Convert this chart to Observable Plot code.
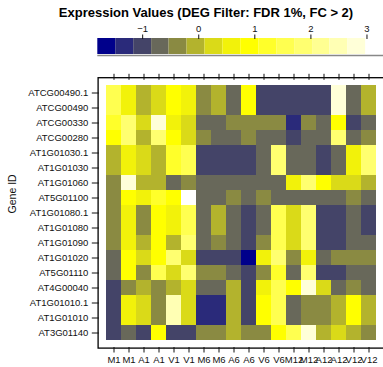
<!DOCTYPE html>
<html><head><meta charset="utf-8">
<script src="https://cdn.jsdelivr.net/npm/d3@7"></script>
<script src="https://cdn.jsdelivr.net/npm/@observablehq/plot@0.6"></script>
<style>
body{margin:0;background:#fff;}
#wrap{position:relative;width:383px;height:367px;overflow:hidden;font-family:"Liberation Sans",Arial,sans-serif;background:#fff;}
#wrap svg{position:absolute;left:0;top:0;}
#title{position:absolute;left:0;width:412px;top:0;text-align:center;font:bold 13px "Liberation Sans",Arial,sans-serif;line-height:26px;color:#000;z-index:3;white-space:nowrap;}
</style></head><body>
<div id="wrap"><div id="title">Expression Values (DEG Filter: FDR 1%, FC &gt; 2)</div></div>
<script>
const genes = ["ATCG00490.1","ATCG00490","ATCG00330","ATCG00280","AT1G01030.1","AT1G01030","AT1G01060","AT5G01100","AT1G01080.1","AT1G01080","AT1G01090","AT1G01020","AT5G01110","AT4G00040","AT1G01010.1","AT1G01010","AT3G01140"];
const samples = ["M1","M1","A1","A1","V1","V1","M6","M6","A6","A6","V6","V6","M12","M12","A12","A12","V12","V12"];
const values = [
 [1.55,0.59,-0.05,0.27,0.91,0.59,-0.37,-0.05,-0.68,0.91,-1.00,-1.00,-1.00,-1.00,-1.00,2.82,-0.68,-0.05],
 [1.55,0.59,-0.05,0.27,0.91,0.59,-0.37,-0.05,-0.68,0.91,-1.00,-1.00,-1.00,-1.00,-1.00,2.82,-0.68,-0.05],
 [1.23,1.86,0.27,2.82,0.59,0.27,-0.68,-0.68,-0.37,-0.37,-0.37,-0.37,-1.32,-0.37,-0.68,0.91,-1.00,-0.68],
 [0.91,1.86,-0.05,1.86,0.91,0.27,-0.37,-0.68,-0.68,-0.37,-0.68,-0.68,-1.00,-0.68,-0.68,1.86,-0.68,-0.37],
 [-0.05,0.59,0.27,-0.05,1.23,1.55,-1.00,-1.00,-1.00,-1.00,-0.68,1.86,-0.68,-0.68,-1.00,-0.68,0.59,1.86],
 [-0.05,0.59,0.27,-0.05,1.23,1.55,-1.00,-1.00,-1.00,-1.00,-0.68,1.86,-0.68,-0.68,-1.00,-0.68,0.59,1.86],
 [-0.37,2.82,-0.05,-0.05,-0.68,-0.37,-0.68,-0.68,-0.68,-0.68,-0.68,-0.68,0.59,1.86,0.91,0.27,0.27,-0.05],
 [-0.37,0.91,0.59,1.23,0.91,3.14,-0.68,-0.68,-0.37,-0.68,-0.37,-0.68,-0.68,-0.68,-0.68,-0.68,-0.37,-0.68],
 [-0.37,0.59,-0.37,0.91,0.59,1.55,-0.68,-0.05,-0.68,-1.00,-0.68,1.55,0.27,1.86,-1.00,-1.00,-0.68,-1.00],
 [-0.37,0.59,-0.37,0.91,0.59,1.55,-0.68,-0.05,-0.68,-1.00,-0.68,1.55,0.27,1.86,-1.00,-1.00,-0.68,-1.00],
 [-0.37,0.59,-0.05,0.91,-0.05,1.86,-0.68,-0.37,-0.68,-1.00,-0.37,1.55,0.27,1.86,-1.00,-1.00,-0.68,-0.68],
 [-0.68,0.91,0.27,0.91,1.86,0.27,-1.00,-1.00,-1.00,-1.64,0.59,1.86,-0.37,0.59,-0.68,-0.37,-0.37,-0.37],
 [-0.68,0.91,-0.37,1.55,0.27,1.86,-0.37,-0.37,-0.68,-1.00,-0.37,1.23,-0.68,1.86,-1.00,-1.00,-0.68,-0.68],
 [-1.00,-0.37,-0.05,-0.37,-0.05,0.27,-0.68,-0.68,-0.05,-1.00,0.59,1.55,0.91,2.82,0.27,-0.68,-0.37,-0.68],
 [-1.00,0.59,0.27,-0.37,2.50,0.27,-1.32,-1.32,-0.05,-1.00,0.91,1.55,-0.68,-0.37,-0.37,-0.05,0.91,-0.05],
 [-1.00,0.59,0.27,-0.37,2.50,0.27,-1.32,-1.32,-0.05,-1.00,0.91,1.55,-0.68,-0.37,-0.37,-0.05,0.91,-0.05],
 [-1.00,-0.68,-1.00,0.91,-1.00,-1.00,-0.37,-0.37,-0.05,-0.37,-0.37,0.91,1.55,2.82,-0.05,0.27,-0.05,-0.37]
];
const legendDomain = [-1.8, 3.3];
const thresholds = [-1.48,-1.16,-0.84,-0.53,-0.21,0.11,0.43,0.75,1.07,1.39,1.71,2.03,2.34,2.66,2.98];
const palette = ["#00008b","#2a2a7a","#444468","#68685a","#8a8a42","#b3b32d","#dada18","#f2f20a","#ffff00","#ffff2a","#ffff50","#ffff70","#ffff92","#ffffb4","#ffffd8","#ffffff"];
const legendTicks = [-1, 0, 1, 2, 3];

const font = "Liberation Sans, Arial, sans-serif";
const colorOpts = {type: "threshold", domain: thresholds, range: palette};

const cells = [];
genes.forEach((g, i) => samples.forEach((s, j) => cells.push({gene: g, col: j, value: values[i][j]})));

const heat = Plot.plot({
  width: 383, height: 367,
  marginTop: 78.8, marginBottom: 20, marginLeft: 98.8, marginRight: -1,
  style: {background: "transparent", fontFamily: font, fontSize: "9.5px", color: "#111"},
  x: {type: "band", domain: d3.range(samples.length), padding: 0},
  y: {type: "band", domain: genes, padding: 0},
  color: colorOpts,
  marks: [
    Plot.cell(cells, {x: "col", y: "gene", fill: "value"}),
    Plot.frame({stroke: "#000", strokeWidth: 1.3, insetLeft: -1.2, insetTop: -1.6, insetBottom: -0.6, insetRight: -2}),
    Plot.axisX({anchor: "bottom", tickSize: 5.5, tickPadding: 3, tickFormat: j => samples[j], label: null}),
    Plot.axisX({anchor: "top", tickSize: 6, tickFormat: () => "", label: null}),
    Plot.axisY({anchor: "left", tickSize: 7, tickPadding: 4, label: null}),
    Plot.text(["Gene ID"], {frameAnchor: "left", dx: -87, rotate: -90, fontSize: 10.5})
  ]
});

const breaksAll = [legendDomain[0], ...thresholds, legendDomain[1]];
const legendBins = d3.range(palette.length).map(i => ({x1: breaksAll[i], x2: breaksAll[i + 1]}));
const legend = Plot.plot({
  width: 383, height: 60,
  marginTop: 38, marginBottom: 6, marginLeft: 97.3, marginRight: -0.3,
  style: {background: "transparent", fontFamily: font, fontSize: "9.5px", color: "#111"},
  x: {domain: legendDomain},
  y: {domain: [0, 1], axis: null},
  color: colorOpts,
  marks: [
    Plot.rect(legendBins, {x1: "x1", x2: "x2", y1: 0, y2: 1, fill: d => (d.x1 + d.x2) / 2}),
    Plot.ruleY([0], {stroke: "#888", strokeWidth: 1.6, dy: 1}),
    Plot.axisX({anchor: "top", ticks: legendTicks, tickFormat: "d", tickSize: 4.5, tickPadding: 2, label: null})
  ]
});

const wrap = document.getElementById("wrap");
wrap.appendChild(heat);
wrap.appendChild(legend);
</script>
</body></html>
